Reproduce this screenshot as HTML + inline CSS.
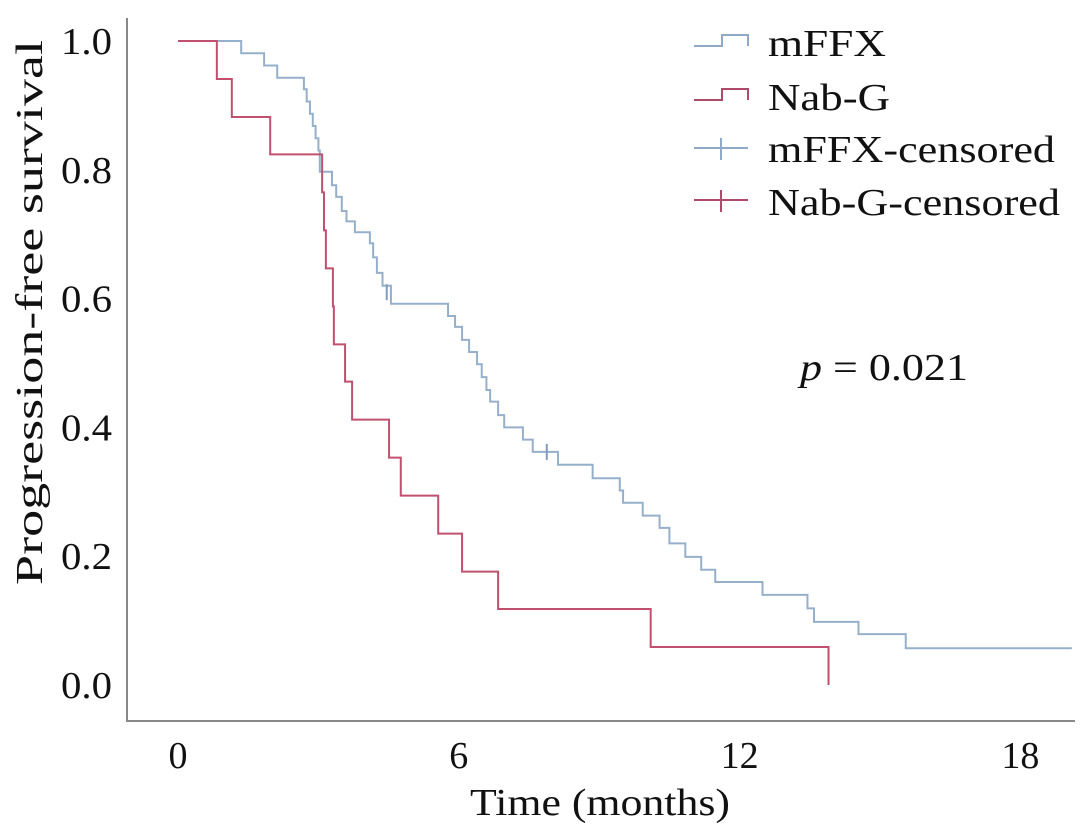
<!DOCTYPE html>
<html><head><meta charset="utf-8"><style>
html,body{margin:0;padding:0;background:#fff}
svg text{font-family:"Liberation Serif",serif;fill:#111}
</style></head><body>
<svg id="chart" width="1086" height="830" viewBox="0 0 1086 830" xmlns="http://www.w3.org/2000/svg">
<line x1="127" y1="18" x2="127" y2="721" stroke="#888" stroke-width="2"/>
<line x1="126" y1="721" x2="1075" y2="721" stroke="#888" stroke-width="2"/>
<g id="yticks"></g><g id="xticks"></g>
<text x="470" y="815" font-size="38" textLength="260" lengthAdjust="spacingAndGlyphs">Time (months)</text>
<text transform="translate(42,585) rotate(-90)" font-size="38" textLength="545" lengthAdjust="spacingAndGlyphs">Progression-free survival</text>
<g id="series"></g>
<text x="800" y="380" font-size="38" textLength="168" lengthAdjust="spacingAndGlyphs"><tspan font-style="italic">p</tspan> = 0.021</text>
<g>
<g><path d="M694 46 H722 V35 H748 V46" fill="none" stroke="#8eaac8" stroke-width="2"/><text x="768" y="56" font-size="38" textLength="118" lengthAdjust="spacingAndGlyphs">mFFX</text></g>
<g><path d="M694 100 H722 V89 H748 V100" fill="none" stroke="#b04a6a" stroke-width="2"/><text x="768" y="110" font-size="38" textLength="122" lengthAdjust="spacingAndGlyphs">Nab-G</text></g>
<g><path d="M694 148 H748 M721 138 V160" fill="none" stroke="#8eaac8" stroke-width="2"/><text x="768" y="162" font-size="38" textLength="287" lengthAdjust="spacingAndGlyphs">mFFX-censored</text></g>
<g><path d="M694 200 H748 M721 190 V212" fill="none" stroke="#b04a6a" stroke-width="2"/><text x="768" y="215" font-size="38" textLength="292" lengthAdjust="spacingAndGlyphs">Nab-G-censored</text></g>
</g>
</svg>
<script>
const xTicks = [0, 6, 12, 18];
const yTicks = ["0.0","0.2","0.4","0.6","0.8","1.0"];
const mffxTimes = [1.35,1.84,2.12,2.69,2.75,2.82,2.88,2.94,3.0,3.03,3.29,3.38,3.5,3.6,3.78,4.1,4.17,4.25,4.37,4.55,5.77,5.92,6.07,6.22,6.39,6.49,6.59,6.67,6.84,6.97,7.37,7.58,8.12,8.86,9.44,9.51,9.93,10.29,10.5,10.84,11.18,11.48,12.49,13.45,13.59,14.54,15.55];
const mffxSurv = [0.981,0.962,0.943,0.925,0.906,0.887,0.868,0.849,0.83,0.797,0.776,0.758,0.736,0.72,0.703,0.686,0.664,0.64,0.62,0.592,0.573,0.556,0.536,0.517,0.498,0.478,0.458,0.44,0.419,0.4,0.381,0.362,0.342,0.321,0.302,0.283,0.263,0.244,0.22,0.199,0.179,0.16,0.14,0.119,0.098,0.079,0.057];
const mffxEnd = 19.1;
const mffxCensorT = [4.46, 7.88];
const mffxCensorS = [0.61, 0.362];
const nabTimes = [0.83,1.15,1.97,3.08,3.12,3.16,3.31,3.33,3.57,3.72,4.51,4.76,5.56,6.07,6.84,10.1,13.9];
const nabSurv = [0.941,0.882,0.824,0.765,0.706,0.647,0.588,0.529,0.471,0.412,0.353,0.294,0.235,0.176,0.118,0.059,0.0];

const X = t => 178 + t * 46.8;
const Y = s => 685 - s * 644;
const NS = "http://www.w3.org/2000/svg";
function mk(tag, attrs, parent){const e=document.createElementNS(NS,tag);for(const k in attrs)e.setAttribute(k,attrs[k]);parent.appendChild(e);return e;}

const yt=document.getElementById('yticks');
yTicks.forEach(v=>{const t=mk('text',{x:112,y:Y(parseFloat(v))+13,'font-size':38,'text-anchor':'end',textLength:51,lengthAdjust:'spacingAndGlyphs'},yt);t.textContent=v;

});
const xt=document.getElementById('xticks');
xTicks.forEach(v=>{const t=mk('text',{x:X(v),y:768,'font-size':38,'text-anchor':'middle'},xt);t.textContent=v;

});

function stepPath(times, surv, end){
  let d=`M${X(0)} ${Y(1)}`;
  times.forEach((t,i)=>{d+=` H${X(t)} V${Y(surv[i])}`;});
  if(end!==undefined)d+=` H${X(end)}`;
  return d;
}
const g=document.getElementById('series');
const p1=mk('path',{d:stepPath(mffxTimes,mffxSurv,mffxEnd),fill:'none',stroke:'#96b0cc','stroke-width':2},g);


const p2=mk('path',{d:stepPath(nabTimes,nabSurv),fill:'none',stroke:'#c0506e','stroke-width':2},g);


mffxCensorT.forEach((t,i)=>{const c=mk('path',{d:`M${X(t)} ${Y(mffxCensorS[i])-8} V${Y(mffxCensorS[i])+8}`,stroke:'#7f9cc0','stroke-width':2},g);

});
</script>
</body></html>
